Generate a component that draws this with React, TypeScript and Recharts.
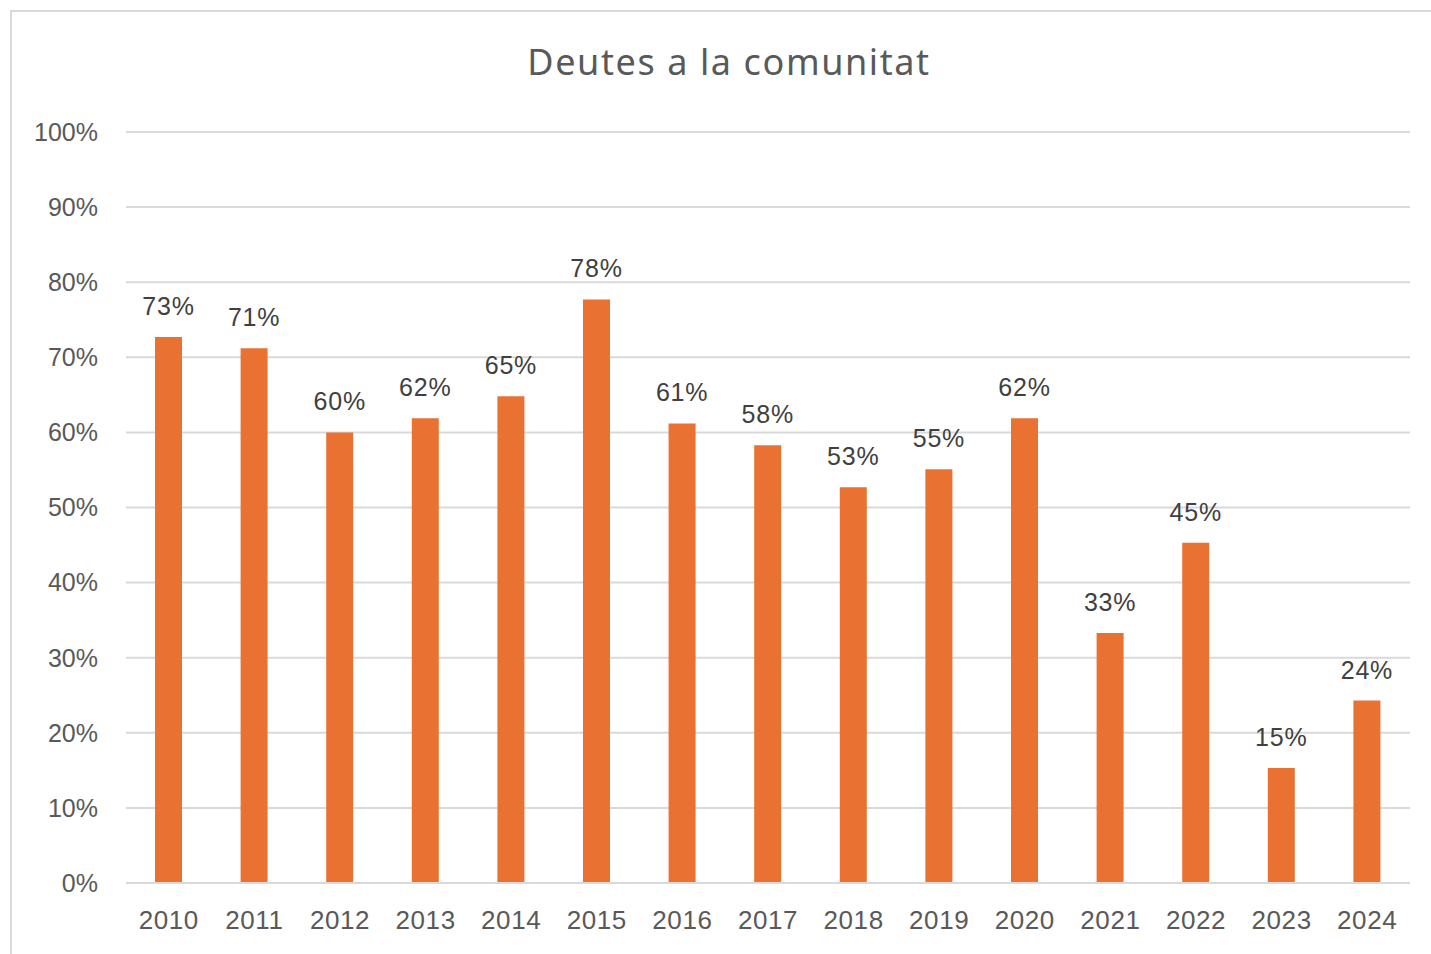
import { BarChart, Bar, XAxis, YAxis, CartesianGrid, LabelList } from "recharts";

const YEARS = ["2010", "2011", "2012", "2013", "2014", "2015", "2016", "2017", "2018", "2019", "2020", "2021", "2022", "2023", "2024"];
const DEBT_PCT = [72.7, 71.2, 60.0, 61.9, 64.8, 77.7, 61.2, 58.3, 52.7, 55.1, 61.9, 33.3, 45.3, 15.3, 24.3];
const Y_TICKS = [0, 10, 20, 30, 40, 50, 60, 70, 80, 90, 100];

const data = YEARS.map((year, i) => ({ year, value: DEBT_PCT[i] }));

const TEXT = "#595959";
const GRID = "#d9d9d9";
const ORANGE = "#E97132";
const SANS = "'Liberation Sans', Arial, sans-serif";

export default function App() {
  return (
    <div style={{ position: "absolute", left: 0, top: 0, width: 1431, height: 954, background: "#fff", overflow: "hidden" }}>
      <div
        style={{
          position: "absolute", left: 10, top: 10, width: 1440, height: 960,
          borderTop: `2px solid ${GRID}`, borderLeft: `2px solid ${GRID}`,
        }}
      />
      <div
        style={{
          position: "absolute", left: 0, width: 1458, top: 37, textAlign: "center",
          fontFamily: "'Noto Sans', sans-serif", fontSize: 36, letterSpacing: 1.6, color: TEXT,
        }}
      >
        Deutes a la comunitat
      </div>
      <div style={{ position: "absolute", left: 0, top: 0 }}>
        <BarChart width={1431} height={954} data={data} margin={{ top: 132, right: 21, bottom: 0, left: 0 }}>
          <CartesianGrid vertical={false} stroke={GRID} strokeWidth={2} />
          <XAxis
            dataKey="year"
            height={71}
            tickLine={false}
            tickSize={0}
            tickMargin={28}
            axisLine={{ stroke: GRID, strokeWidth: 2 }}
            tick={{ fill: TEXT, fontSize: 26, letterSpacing: 0.6, fontFamily: SANS }}
          />
          <YAxis
            width={126}
            domain={[0, 100]}
            ticks={Y_TICKS}
            tickLine={false}
            axisLine={false}
            tickSize={0}
            tickMargin={28}
            tickFormatter={(v: number) => `${v}%`}
            tick={{ fill: TEXT, fontSize: 25, fontFamily: SANS }}
          />
          <Bar dataKey="value" fill={ORANGE} barSize={27} isAnimationActive={false}>
            <LabelList
              dataKey="value"
              position="top"
              offset={22}
              formatter={(v: number) => `${Math.round(v)}%`}
              style={{ fill: "#404040", fontSize: 25, letterSpacing: 0.8, fontFamily: SANS }}
            />
          </Bar>
        </BarChart>
      </div>
    </div>
  );
}
